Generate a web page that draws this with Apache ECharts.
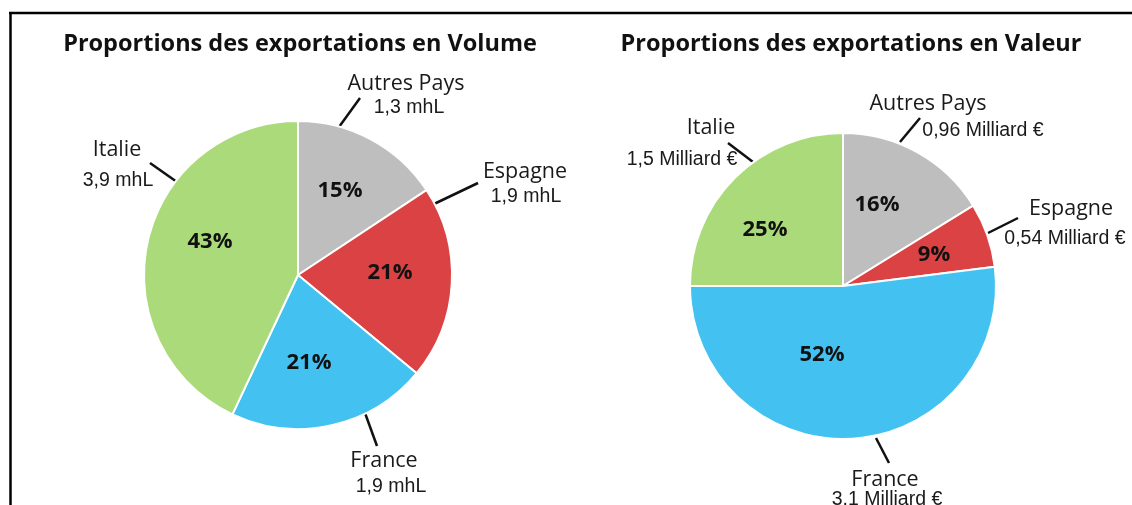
<!DOCTYPE html>
<html><head><meta charset="utf-8">
<script src="https://cdn.jsdelivr.net/npm/echarts@6/dist/echarts.min.js"></script>
<style>html,body{margin:0;padding:0;background:#fff}#c{width:1132px;height:505px}</style>
</head><body><div id="c"></div>
<script>
// ---- data ----
const categories = ['Autres Pays', 'Espagne', 'France', 'Italie'];
const titles = ['Proportions des exportations en Volume', 'Proportions des exportations en Valeur'];
// slice sizes as drawn (share of the circle, %)
const volumeShares = [15.7, 20.3, 21.0, 43.0];
const volumePct = ['15%', '21%', '21%', '43%'];
const volumeText = ['1,3 mhL', '1,9 mhL', '1,9 mhL', '3,9 mhL'];
const valueShares = [16.2, 6.8, 52.0, 25.0];
const valuePct = ['16%', '9%', '52%', '25%'];
const valueText = ['0,96 Milliard €', '0,54 Milliard €', '3.1 Milliard €', '1,5 Milliard €'];
const sliceColors = ['#BEBEBE', '#DA4243', '#43C2F2', '#ABDA7A'];

// ---- layout (pixel positions of labels / leader lines) ----
const pies = [
  { center: [298, 275], r: 154, shares: volumeShares, pct: volumePct, vals: volumeText, titleX: 295,
    name: [[406, 84], [525, 172], [384, 461], [117, 150]],
    val:  [[409, 108], [526, 197], [391, 487], [118, 181]],
    pctPos: [[340, 191], [390, 273], [309, 363], [210, 242]],
    line: [[[339, 127], [360, 98]], [[434, 204], [478, 183]], [[365, 413], [377, 446]], [[177, 182], [150, 163]]] },
  { center: [843, 286], r: 153, shares: valueShares, pct: valuePct, vals: valueText, titleX: 846,
    name: [[928, 104], [1071, 209], [885, 480], [711, 128]],
    val:  [[983, 131], [1065, 239], [887, 500], [682, 160]],
    pctPos: [[877, 205], [934, 255], [822, 355], [765, 230]],
    line: [[[900, 142], [920, 118]], [[988, 233], [1018, 218]], [[876, 438], [889, 463]], [[753, 162], [728, 143]]] }
];

const NAME_FONT = "'Open Sans', Lato, sans-serif";
const VAL_FONT = "'Liberation Sans Narrow', 'Arial Narrow', 'Liberation Sans', sans-serif";
const TXT = '#1a1a1a';

const series = [];
pies.forEach((p, pi) => {
  const data = categories.map((c, i) => ({ name: c, value: p.shares[i], itemStyle: { color: sliceColors[i] } }));
  const base = { type: 'pie', center: p.center, radius: [0, p.r], startAngle: 90, clockwise: true,
    avoidLabelOverlap: false, animation: false };
  // slices + name labels + leader lines
  series.push(Object.assign({}, base, {
    name: titles[pi],
    data: data,
    itemStyle: { borderColor: '#fff', borderWidth: 2 },
    label: { show: true, position: 'outside', formatter: '{b}', color: TXT, fontFamily: NAME_FONT, fontSize: 21.5 },
    labelLine: { show: true, length: 20, length2: 0, lineStyle: { color: '#111', width: 2.5 } },
    emphasis: { disabled: true },
    labelLayout: (q) => ({ x: p.name[q.dataIndex][0], y: p.name[q.dataIndex][1], align: 'center', verticalAlign: 'middle',
      labelLinePoints: [p.line[q.dataIndex][0], p.line[q.dataIndex][1], p.line[q.dataIndex][1]] })
  }));
  // percentage labels
  series.push(Object.assign({}, base, {
    silent: true,
    data: data.map((d) => ({ name: d.name, value: d.value, itemStyle: { color: 'rgba(0,0,0,0)' } })),
    itemStyle: { borderWidth: 0 },
    label: { show: true, position: 'inside', formatter: (q) => p.pct[q.dataIndex], color: '#111', fontFamily: NAME_FONT,
      fontWeight: 'bold', fontSize: 22 },
    labelLine: { show: false },
    labelLayout: (q) => ({ x: p.pctPos[q.dataIndex][0], y: p.pctPos[q.dataIndex][1], align: 'center', verticalAlign: 'middle' })
  }));
  // value labels
  series.push(Object.assign({}, base, {
    silent: true,
    data: data.map((d) => ({ name: d.name, value: d.value, itemStyle: { color: 'rgba(0,0,0,0)' } })),
    itemStyle: { borderWidth: 0 },
    label: { show: true, position: 'inside', formatter: (q) => p.vals[q.dataIndex], color: TXT, fontFamily: VAL_FONT, fontSize: 19.5 },
    labelLine: { show: false },
    labelLayout: (q) => ({ x: p.val[q.dataIndex][0], y: p.val[q.dataIndex][1], align: 'center', verticalAlign: 'middle' })
  }));
});

const chart = echarts.init(document.getElementById('c'), null, { renderer: 'canvas' });
chart.setOption({
  backgroundColor: '#fff',
  animation: false,
  title: pies.map((p, i) => ({ text: titles[i], left: p.titleX, top: 27, textAlign: 'center',
    textStyle: { fontFamily: NAME_FONT, fontWeight: 'bold', fontSize: 23.5, color: '#111' } })),
  graphic: [
    { type: 'line', shape: { x1: 9, y1: 13, x2: 1132, y2: 13 }, style: { stroke: '#000', lineWidth: 2.5 } },
    { type: 'line', shape: { x1: 10.5, y1: 12, x2: 10.5, y2: 505 }, style: { stroke: '#000', lineWidth: 2.5 } }
  ],
  series: series
});
</script></body></html>
